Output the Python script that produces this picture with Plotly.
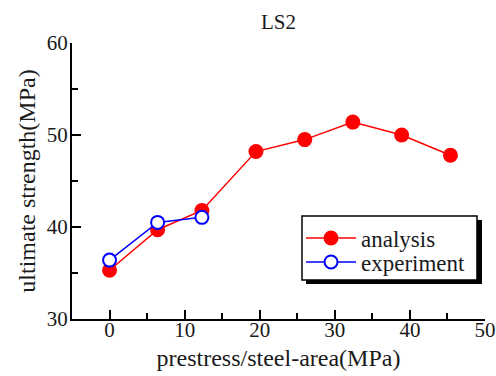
import plotly.graph_objects as go

analysis_x = [0, 6.4, 12.3, 19.5, 26.0, 32.4, 38.9, 45.4]
analysis_y = [35.3, 39.7, 41.8, 48.2, 49.5, 51.4, 50.0, 47.8]
experiment_x = [0, 6.4, 12.3]
experiment_y = [36.4, 40.5, 41.05]
x_ticks = [0, 10, 20, 30, 40, 50]
y_ticks = [30, 40, 50, 60]

FONT = "Liberation Serif"
TXT = "#1a1a1a"

fig = go.Figure()
fig.add_trace(go.Scatter(
    x=analysis_x, y=analysis_y, mode="lines+markers", name="analysis",
    line=dict(color="#ff0000", width=1.5),
    marker=dict(symbol="circle", size=15, color="#ff0000", line=dict(width=0)),
    legend="legend",
))
fig.add_trace(go.Scatter(
    x=experiment_x, y=experiment_y, mode="lines+markers", name="experiment",
    line=dict(color="#0000ff", width=1.5),
    marker=dict(symbol="circle", size=13, color="white", line=dict(color="#0000ff", width=2)),
    legend="legend2",
))

axis_common = dict(
    showgrid=False, zeroline=False, showline=True, linecolor="black", linewidth=2,
    ticks="inside", ticklen=9, tickwidth=1.5, tickcolor="black",
    tickfont=dict(family=FONT, size=21, color=TXT),
    minor=dict(ticks="inside", ticklen=6, tickwidth=1.5, tickcolor="black", dtick=5),
    mirror=False, automargin=False,
)

leg_common = dict(xanchor="left", yanchor="middle", bgcolor="rgba(0,0,0,0)",
                  borderwidth=0, font=dict(family=FONT, size=23, color=TXT),
                  itemwidth=50)

fig.update_layout(
    width=496, height=376,
    margin=dict(l=72, r=11, t=43, b=57),
    paper_bgcolor="white", plot_bgcolor="white",
    font=dict(family=FONT, size=21, color=TXT),
    title=dict(text="LS2", x=0.5, xref="paper", y=1 - 22 / 376, yref="container",
               xanchor="center", yanchor="middle",
               font=dict(family=FONT, size=21, color=TXT)),
    xaxis=dict(range=[-5, 50], tickvals=x_ticks, ticktext=[str(v) for v in x_ticks],
               ticklabelstandoff=-9,
               title=dict(text="prestress/steel-area(MPa)", standoff=8,
                          font=dict(family=FONT, size=24, color=TXT)),
               **axis_common),
    yaxis=dict(range=[30, 60], tickvals=y_ticks, ticktext=[str(v) for v in y_ticks],
               ticklabelstandoff=-2,
               title=dict(text="ultimate strength(MPa)", standoff=4,
                          font=dict(family=FONT, size=24, color=TXT)),
               **axis_common),
    legend=dict(x=0.5545, y=0.2935, **leg_common),
    legend2=dict(x=0.5545, y=0.2065, **leg_common),
    showlegend=True,
)

# legend frame with drop shadow
fig.add_shape(type="rect", xref="paper", yref="paper",
              x0=0.5666, x1=0.9927, y0=0.1268, y1=0.3587,
              fillcolor="black", line=dict(width=0), layer="below")
fig.add_shape(type="rect", xref="paper", yref="paper",
              x0=0.5569, x1=0.9806, y0=0.1413, y1=0.3732,
              fillcolor="white", line=dict(color="black", width=1.5), layer="below")

fig.write_html(
    "out.html",
    config={"displayModeBar": False},
    post_script="document.body.style.margin='0';document.body.style.overflow='hidden';",
)
